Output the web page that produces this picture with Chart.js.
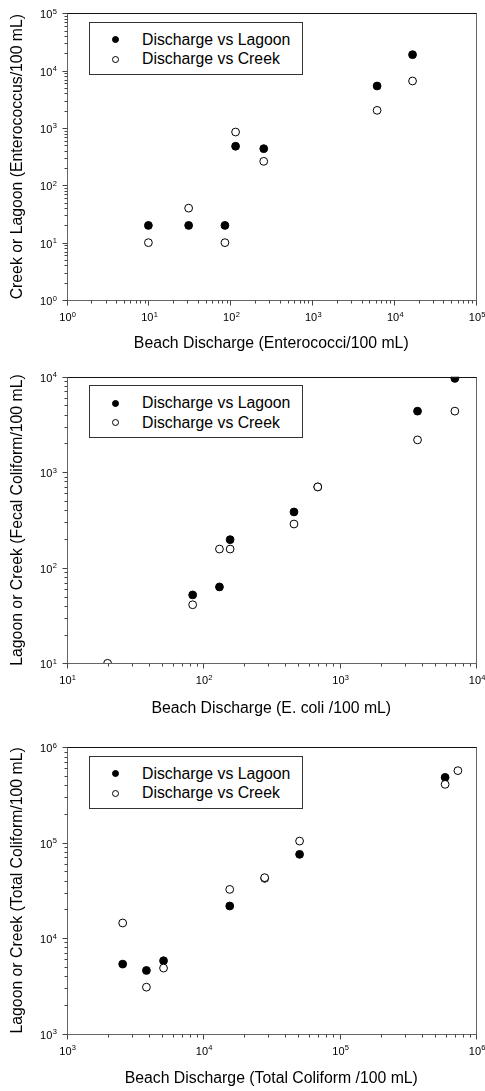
<!DOCTYPE html>
<html>
<head>
<meta charset="utf-8">
<script src="https://cdn.jsdelivr.net/npm/chart.js@4/dist/chart.umd.min.js"></script>
<style>
  body { margin: 0; background: #fff; width: 485px; height: 1091px; position: relative; overflow: hidden; font-family: "Liberation Sans", Arial, sans-serif; }
  .plot { position: absolute; left: 0; width: 485px; }
  .legend { position: absolute; left: 89px; width: 212px; height: 51px; border: 1px solid #333; background: #fff; }
  .legend .row { position: absolute; left: 0; right: 0; height: 20px; }
  .legend .dot { position: absolute; left: 21.5px; top: 6.5px; width: 7px; height: 7px; border-radius: 50%; border: 1px solid #000; box-sizing: border-box; }
  .legend .txt { position: absolute; left: 52px; top: 0; line-height: 20px; font-size: 15.8px; color: #000; white-space: nowrap; }
</style>
</head>
<body>

<div class="plot" style="top:0px"><canvas id="c1" width="485" height="353"></canvas></div>
<div class="plot" style="top:362px"><canvas id="c2" width="485" height="356"></canvas></div>
<div class="plot" style="top:733px"><canvas id="c3" width="485" height="355"></canvas></div>

<script>
// Enterococci
var entX      = [10, 31, 86, 116, 256, 6200, 16800];
var entLagoon = [20, 20, 20, 480, 436, 5400, 19000];
var entCreek  = [10, 40, 10, 850, 262, 2030, 6600];
var entTicks  = [1, 10, 100, 1000, 10000, 100000];

// E. coli vs fecal coliform
var fecLagoonX = [84, 132, 158, 464, 693, 3730, 7000];
var fecLagoonY = [52, 63, 197, 384, 702, 4360, 9600];
var fecCreekX  = [20, 84, 132, 158, 464, 693, 3730, 7000];
var fecCreekY  = [10, 41, 157, 157, 287, 702, 2180, 4360];
var fecTicks   = [10, 100, 1000, 10000];

// Total coliform
var totLagoonX = [2580, 3850, 5140, 15700, 28300, 51000, 594000];
var totLagoonY = [5340, 4580, 5790, 21700, 42300, 75500, 484000];
var totCreekX  = [2580, 3850, 5140, 15700, 28300, 51000, 594000, 737000];
var totCreekY  = [14400, 3060, 4850, 32400, 43000, 104000, 409000, 569000];
var totTicks   = [1000, 10000, 100000, 1000000];

var FONT = '"Liberation Sans", Arial, sans-serif';

function pts(xs, ys) {
  return xs.map(function (x, i) { return { x: x, y: ys[i] }; });
}

// frame, log tick marks and 10^n labels
var logAxes = {
  id: 'logAxes',
  afterDraw: function (chart, args, opts) {
    var ctx = chart.ctx, a = chart.chartArea;
    var sx = chart.scales.x, sy = chart.scales.y;
    var L = Math.round(a.left) + 0.5, R = Math.round(a.right) + 0.5;
    var T = Math.round(a.top) + 0.5, B = Math.round(a.bottom) + 0.5;
    ctx.save();
    ctx.lineWidth = 1;
    ctx.strokeStyle = '#666';
    ctx.strokeRect(L, T, R - L, B - T);
    ctx.strokeStyle = '#111';
    ctx.beginPath(); ctx.moveTo(L, T); ctx.lineTo(R, T); ctx.stroke();

    function marks(s) {
      var out = [];
      var e0 = Math.round(Math.log10(s.min)), e1 = Math.round(Math.log10(s.max));
      for (var e = e0; e < e1; e++)
        for (var k = 1; k <= 9; k++) out.push({ v: k * Math.pow(10, e), major: k === 1 });
      out.push({ v: s.max, major: true });
      return out;
    }
    ctx.strokeStyle = '#444';
    ctx.beginPath();
    marks(sx).forEach(function (m) {
      var p = Math.round(sx.getPixelForValue(m.v)) + 0.5;
      ctx.moveTo(p, B); ctx.lineTo(p, B + (m.major ? 5 : 3));
    });
    marks(sy).forEach(function (m) {
      var p = Math.round(sy.getPixelForValue(m.v)) + 0.5;
      ctx.moveTo(L, p); ctx.lineTo(L - (m.major ? 5 : 3), p);
    });
    ctx.stroke();

    ctx.fillStyle = '#000';
    ctx.textAlign = 'left';
    ctx.textBaseline = 'alphabetic';
    function label(v, px, py, centered) {
      var e = String(Math.round(Math.log10(v)));
      ctx.font = '11px ' + FONT; var w1 = ctx.measureText('10').width;
      ctx.font = '7.5px ' + FONT; var w2 = ctx.measureText(e).width;
      var x0 = centered ? px - (w1 + w2) / 2 : px - w1 - w2;
      ctx.font = '11px ' + FONT; ctx.fillText('10', x0, py);
      ctx.font = '7.5px ' + FONT; ctx.fillText(e, x0 + w1 + 0.3, py - 4.5);
    }
    opts.xTicks.forEach(function (v) { label(v, sx.getPixelForValue(v) + 1, a.bottom + 21, true); });
    opts.yTicks.forEach(function (v) { label(v, a.left - 10, sy.getPixelForValue(v) + 5, false); });
    ctx.restore();
  }
};

function panel(id, o) {
  var chart = new Chart(document.getElementById(id), {
    type: 'scatter',
    data: {
      datasets: [
        { label: 'Discharge vs Lagoon', data: pts(o.lagoonX, o.lagoonY), order: 1,
          pointRadius: 3.9, pointBorderWidth: 1, pointBackgroundColor: '#000', pointBorderColor: '#000' },
        { label: 'Discharge vs Creek', data: pts(o.creekX, o.creekY), order: 0,
          pointRadius: 3.9, pointBorderWidth: 1, pointBackgroundColor: '#fff', pointBorderColor: '#000' }
      ]
    },
    options: {
      responsive: false,
      animation: false,
      events: [],
      layout: { padding: { top: o.padTop, right: 9, left: 0, bottom: 0 } },
      plugins: {
        legend: { display: false },
        tooltip: { enabled: false },
        logAxes: { xTicks: o.xTicks, yTicks: o.yTicks }
      },
      scales: {
        x: {
          type: 'logarithmic', min: o.xTicks[0], max: o.xTicks[o.xTicks.length - 1],
          grid: { display: false }, border: { display: false }, ticks: { display: false },
          title: { display: true, text: o.xTitle, color: '#000', font: { family: FONT, size: 15.8 }, padding: { top: 0, bottom: 0 } },
          afterFit: function (s) { s.height = o.xHeight; }
        },
        y: {
          type: 'logarithmic', min: o.yTicks[0], max: o.yTicks[o.yTicks.length - 1],
          grid: { display: false }, border: { display: false }, ticks: { display: false },
          title: { display: true, text: o.yTitle, color: '#000', font: { family: FONT, size: 15.8 }, padding: { top: 8.5, bottom: 0 } },
          afterFit: function (s) { s.width = 66.5; }
        }
      }
    },
    plugins: [logAxes]
  });

  // boxed legend like the original
  var box = document.createElement('div');
  box.className = 'legend';
  box.style.top = (chart.chartArea.top + 8.4) + 'px';
  chart.data.datasets.forEach(function (d, i) {
    var row = document.createElement('div');
    row.className = 'row';
    row.style.top = (7 + i * 19.7) + 'px';
    var dot = document.createElement('span');
    dot.className = 'dot';
    dot.style.background = d.pointBackgroundColor;
    dot.style.borderColor = d.pointBorderColor;
    var txt = document.createElement('span');
    txt.className = 'txt';
    txt.textContent = d.label;
    row.appendChild(dot); row.appendChild(txt);
    box.appendChild(row);
  });
  document.getElementById(id).parentNode.appendChild(box);
}

panel('c1', {
  lagoonX: entX, lagoonY: entLagoon, creekX: entX, creekY: entCreek,
  xTicks: entTicks, yTicks: entTicks, padTop: 13.3, xHeight: 53,
  xTitle: 'Beach Discharge (Enterococci/100 mL)',
  yTitle: 'Creek or Lagoon (Enterococcus/100 mL)'
});
panel('c2', {
  lagoonX: fecLagoonX, lagoonY: fecLagoonY, creekX: fecCreekX, creekY: fecCreekY,
  xTicks: fecTicks, yTicks: fecTicks, padTop: 14.7, xHeight: 54.7,
  xTitle: 'Beach Discharge (E. coli /100 mL)',
  yTitle: 'Lagoon or Creek (Fecal Coliform/100 mL)'
});
panel('c3', {
  lagoonX: totLagoonX, lagoonY: totLagoonY, creekX: totCreekX, creekY: totCreekY,
  xTicks: totTicks, yTicks: totTicks, padTop: 14.3, xHeight: 54.5,
  xTitle: 'Beach Discharge (Total Coliform /100 mL)',
  yTitle: 'Lagoon or Creek (Total Coliform/100 mL)'
});
</script>
</body>
</html>
